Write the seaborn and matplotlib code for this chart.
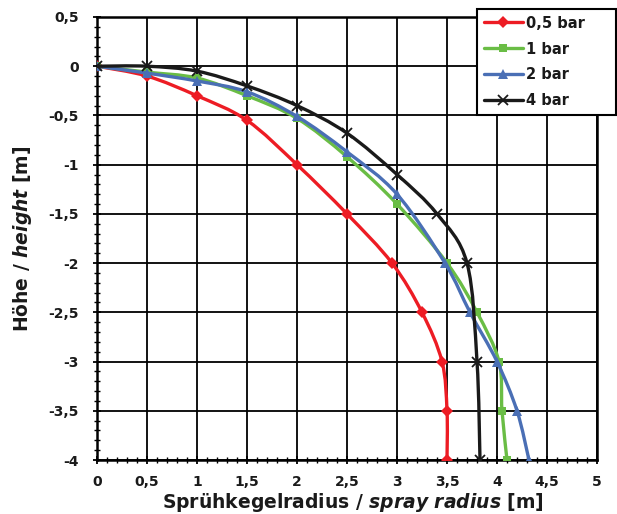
import matplotlib
matplotlib.use("Agg")
import numpy as np
import pandas as pd
import seaborn as sns
import matplotlib.pyplot as plt
from matplotlib.path import Path
from matplotlib.patches import PathPatch
from matplotlib.lines import Line2D
from matplotlib.ticker import MultipleLocator, FuncFormatter

# ---- data ----
x_05 = [0, 0.5, 1, 1.5, 2, 2.5, 2.95, 3.25, 3.45, 3.5, 3.5]
y_05 = [0, -0.1, -0.3, -0.55, -1, -1.5, -2, -2.5, -3, -3.5, -4]
x_1 = [0, 0.5, 1, 1.5, 2, 2.5, 3, 3.5, 3.8, 4.02, 4.05, 4.1]
y_1 = [0, -0.06, -0.12, -0.3, -0.53, -0.92, -1.4, -2, -2.5, -3, -3.5, -4]
x_2 = [0, 0.5, 1, 1.5, 2, 2.5, 3, 3.48, 3.73, 4.0, 4.2, 4.32]
y_2 = [0, -0.07, -0.15, -0.26, -0.51, -0.87, -1.3, -2, -2.5, -3, -3.5, -4]
x_4 = [0, 0.5, 1, 1.5, 2, 2.5, 3, 3.4, 3.7, 3.8, 3.83]
y_4 = [0, 0, -0.05, -0.2, -0.4, -0.68, -1.1, -1.5, -2, -3, -4]
series_names = ["0,5 bar", "1 bar", "2 bar", "4 bar"]

series = [(x_05, y_05), (x_1, y_1), (x_2, y_2), (x_4, y_4)]
colors = ["#ED1C24", "#6ABD45", "#4A6FB5", "#1A1A1A"]
markers = ["D", "s", "^", "x"]
msizes = [6, 6, 7.5, 6.5]

sns.set_theme(style="white")
plt.rcParams["font.family"] = ["DejaVu Sans"]
plt.rcParams["font.weight"] = "bold"
plt.rcParams["mathtext.fontset"] = "custom"
plt.rcParams["mathtext.it"] = "DejaVu Sans:italic:bold"
plt.rcParams["mathtext.rm"] = "DejaVu Sans:bold"

fig = plt.figure(figsize=(6.17, 5.14), dpi=100)
ax = fig.add_axes([97 / 617, 1 - 460 / 514, 500 / 617, 443 / 514])


def smooth_path(xs, ys):
    p = np.column_stack([xs, ys]).astype(float)
    n = len(p)
    verts = [p[0]]
    codes = [Path.MOVETO]
    for i in range(n - 1):
        p0 = p[i - 1] if i > 0 else p[i]
        p1 = p[i]
        p2 = p[i + 1]
        p3 = p[i + 2] if i + 2 < n else p[i + 1]
        c1 = p1 + (p2 - p0) / 6.0
        c2 = p2 - (p3 - p1) / 6.0
        verts += [c1, c2, p2]
        codes += [Path.CURVE4] * 3
    return Path(verts, codes)


handles = []
for i, ((xs, ys), name) in enumerate(zip(series, series_names)):
    df = pd.DataFrame({"x": xs, "y": ys})
    patch = PathPatch(smooth_path(xs, ys), facecolor="none", edgecolor=colors[i],
                      lw=2.4, zorder=3 + i, capstyle="round", joinstyle="round")
    ax.add_patch(patch)
    mkw = dict(markeredgewidth=1.3) if markers[i] == "x" else dict(markeredgewidth=0)
    sns.lineplot(data=df, x="x", y="y", sort=False, estimator=None, ax=ax,
                 color=colors[i], linewidth=0, marker=markers[i], markersize=msizes[i],
                 markeredgecolor=colors[i], legend=False, zorder=3.5 + i, **mkw)
    handles.append(Line2D([], [], color=colors[i], lw=2.4, marker=markers[i],
                          markersize=msizes[i], markeredgecolor=colors[i], **mkw))

ax.set_xlim(0, 5)
ax.set_ylim(-4, 0.5)
ax.xaxis.set_major_locator(MultipleLocator(0.5))
ax.xaxis.set_minor_locator(MultipleLocator(0.1))
ax.yaxis.set_major_locator(MultipleLocator(0.5))
ax.yaxis.set_minor_locator(MultipleLocator(0.1))
fmt = FuncFormatter(lambda v, pos: f"{round(v, 2) + 0.0:g}".replace(".", ","))
ax.xaxis.set_major_formatter(fmt)
ax.yaxis.set_major_formatter(fmt)

ax.grid(True, which="major", color="black", lw=1.3)
ax.set_axisbelow(True)
for s in ax.spines.values():
    s.set_color("black")
    s.set_linewidth(1.8)

ax.tick_params(axis="both", which="major", direction="inout", length=6, width=1.3,
               color="black", labelsize=10, labelcolor="#1A1A1A",
               bottom=True, left=True, top=False, right=False)
ax.tick_params(axis="both", which="minor", direction="inout", length=5, width=1.0,
               color="black", bottom=True, left=True, top=False, right=False)
ax.tick_params(axis="x", which="major", pad=8)
ax.tick_params(axis="y", which="major", pad=10)
for lab in ax.get_xticklabels() + ax.get_yticklabels():
    lab.set_fontweight("bold")

ax.set_xlabel(r"Sprühkegelradius / $\mathit{spray\ radius}$ [m]", fontsize=13.5,
              fontweight="bold", color="#1A1A1A")
ax.set_ylabel(r"Höhe / $\mathit{height}$ [m]", fontsize=13.5, fontweight="bold",
              color="#1A1A1A")
ax.xaxis.set_label_coords(0.512, -0.07)
ax.yaxis.set_label_coords(-0.125, 0.5)

leg = fig.legend(handles, series_names, loc="upper left",
                 bbox_to_anchor=(477 / 617, 1 - 9 / 514, 139 / 617, 0), mode="expand",
                 borderaxespad=0, frameon=True, fancybox=False, framealpha=1,
                 edgecolor="black", handlelength=2.7, handletextpad=0.2,
                 labelspacing=0.75, borderpad=0.45,
                 prop={"weight": "bold", "size": 10.5})
leg.get_frame().set_linewidth(1.5)
for t in leg.get_texts():
    t.set_color("#1A1A1A")

fig.savefig("out.png", dpi=100)
